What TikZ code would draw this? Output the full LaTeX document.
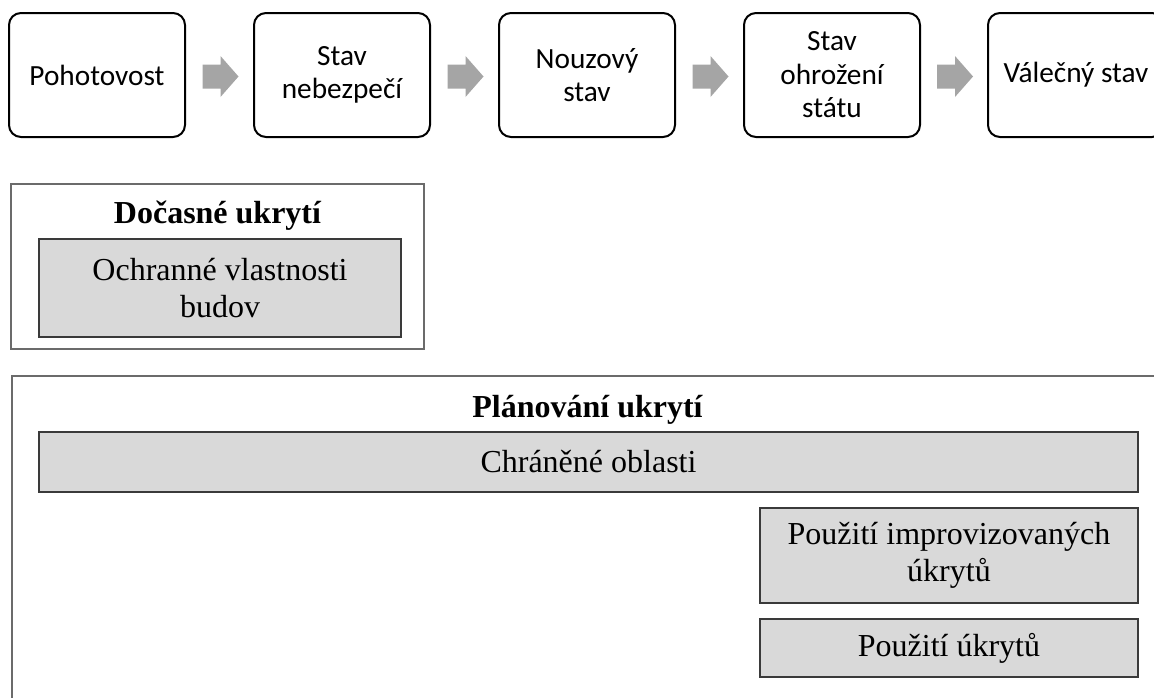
\documentclass[tikz,border=0pt]{standalone}
\usepackage{fontspec}
\setmainfont{Liberation Serif}
\newfontfamily\calfont{Carlito}
\usetikzlibrary{calc}
\definecolor{arrowgray}{HTML}{A5A5A5}
\definecolor{boxfill}{HTML}{D9D9D9}
\definecolor{outerline}{HTML}{6B6B6B}
\definecolor{innerline}{HTML}{3A3A3A}
\begin{document}
\begin{tikzpicture}[x=1pt,y=-1pt,
  stagebox/.style={draw=black, line width=2pt, rounded corners=12pt, fill=white,
    minimum width=176pt, minimum height=124pt, align=center, inner sep=0pt,
    font=\calfont\fontsize{29.3}{33.5}\selectfont},
  outerbox/.style={draw=outerline, line width=1.6pt, inner sep=0pt},
  graybox/.style={draw=innerline, line width=1.3pt, fill=boxfill, align=center, inner sep=0pt,
    font=\fontsize{32}{36.5}\selectfont},
  titletext/.style={font=\bfseries\fontsize{32}{38}\selectfont, inner sep=0pt, anchor=base},
  blockarrow/.pic={\fill[arrowgray] (-18,-12) -- (0,-12) -- (0,-20.5) -- (18,0) -- (0,20.5) -- (0,12) -- (-18,12) -- cycle;}
]
\useasboundingbox (0,0) rectangle (1154,697);
\clip (0,0) rectangle (1154,697);
\fill[white] (0,0) rectangle (1154,697);

% stage boxes
\node[stagebox] (s1) at (97,75) {Pohotovost};
\node[stagebox] (s2) at (342,75) {Stav\\nebezpečí};
\node[stagebox] (s3) at (587,75) {Nouzový\\stav};
\node[stagebox] (s4) at (832,75) {Stav\\ohrožení\\státu};
\node[stagebox] (s5) at (1076,75) {Válečný stav};

% block arrows between stages
\coordinate (a1) at ($(s1.east)!0.5!(s2.west)+(1,1.5)$);
\coordinate (a2) at ($(s2.east)!0.5!(s3.west)+(1,1.5)$);
\coordinate (a3) at ($(s3.east)!0.5!(s4.west)+(1,1.5)$);
\coordinate (a4) at ($(s4.east)!0.5!(s5.west)+(1,1.5)$);
\path (a1) pic {blockarrow};
\path (a2) pic {blockarrow};
\path (a3) pic {blockarrow};
\path (a4) pic {blockarrow};

% Dočasné ukrytí
\node[outerbox, minimum width=413pt, minimum height=165pt] (doc) at (217.5,266.5) {};
\node[titletext] (doctitle) at (217.5,223) {Dočasné ukrytí};
\node[graybox, minimum width=362pt, minimum height=98pt] (ochr) at (220,288) {Ochranné vlastnosti\\budov};

% Plánování ukrytí
\node[outerbox, anchor=north west, minimum width=1200pt, minimum height=400pt] (plan) at (11,375) {};
\node[titletext] (plantitle) at (587.5,417) {Plánování ukrytí};
\node[graybox, minimum width=1099pt, minimum height=60pt] (chr) at (588.5,462) {Chráněné oblasti};
\node[graybox, minimum width=378pt, minimum height=95pt] (impr) at (949,555.5) {Použití improvizovaných\\úkrytů};
\node[graybox, minimum width=378pt, minimum height=58pt] (ukr) at (949,648) {Použití úkrytů};
\end{tikzpicture}
\end{document}
